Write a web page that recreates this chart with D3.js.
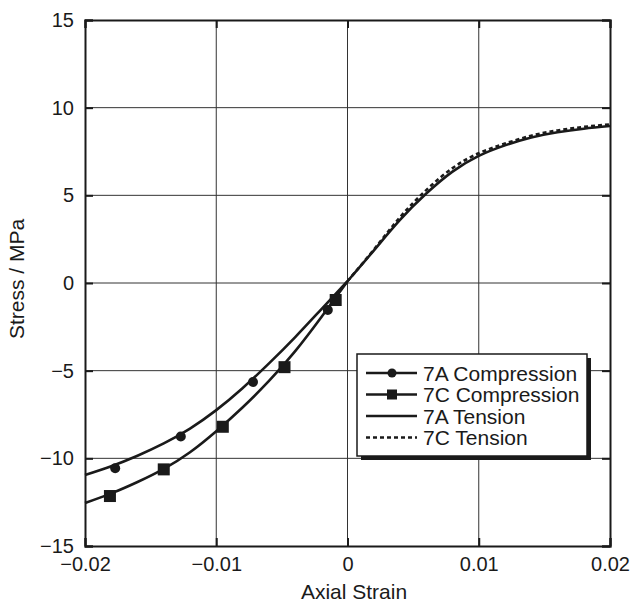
<!DOCTYPE html>
<html>
<head>
<meta charset="utf-8">
<script src="https://cdn.jsdelivr.net/npm/d3@7"></script>
<style>
  body { margin: 0; background: #fff; }
  text { font-family: "Liberation Sans", Arial, sans-serif; fill: #1a1a1a; }
</style>
</head>
<body>
<script>
// fitted curves
var compStrain = [-0.020, -0.018, -0.016, -0.014, -0.012, -0.010, -0.008, -0.006, -0.004, -0.002, 0];
var fit7A = [-10.95, -10.45, -9.85, -9.15, -8.3, -7.25, -6.0, -4.6, -3.1, -1.5, 0.1];
var fit7C = [-12.55, -12.0, -11.35, -10.6, -9.65, -8.45, -7.1, -5.6, -3.9, -1.95, 0.1];

var tensStrain = [0, 0.002, 0.004, 0.006, 0.008, 0.010, 0.012, 0.014, 0.016, 0.018, 0.020];
var tens7A = [0.1, 1.85, 3.6, 5.1, 6.35, 7.25, 7.85, 8.3, 8.6, 8.8, 8.95];
var tens7C = [0.1, 1.9, 3.75, 5.3, 6.55, 7.4, 7.95, 8.4, 8.7, 8.9, 9.05];

// measured points
var pts7AStrain = [-0.0177, -0.0127, -0.0072, -0.0015];
var pts7AStress = [-10.57, -8.75, -5.65, -1.54];
var pts7CStrain = [-0.0181, -0.0140, -0.0095, -0.0048, -0.0009];
var pts7CStress = [-12.15, -10.63, -8.2, -4.8, -0.97];

var xTicks = [-0.02, -0.01, 0, 0.01, 0.02];
var yTicks = [-15, -10, -5, 0, 5, 10, 15];
var legendLabels = ["7A Compression", "7C Compression", "7A Tension", "7C Tension"];

var w = 633, h = 604;
var mLeft = 85, mRight = 610, mTop = 20, mBottom = 546;

var svg = d3.select("body").append("svg")
    .attr("width", w)
    .attr("height", h);

var x = d3.scaleLinear().domain([-0.02, 0.02]).range([mLeft, mRight]);
var y = d3.scaleLinear().domain([-15, 15]).range([mBottom, mTop]);

function fmt(v) {
    return v === 0 ? "0" : (v < 0 ? "\u2212" : "") + Math.abs(v);
}

// grid
svg.append("g").selectAll("line")
    .data(xTicks.slice(1, -1))
    .enter().append("line")
    .attr("x1", function(d) { return x(d); })
    .attr("x2", function(d) { return x(d); })
    .attr("y1", mTop).attr("y2", mBottom)
    .attr("stroke", "#333").attr("stroke-width", 1);
svg.append("g").selectAll("line")
    .data(yTicks.slice(1, -1))
    .enter().append("line")
    .attr("y1", function(d) { return y(d); })
    .attr("y2", function(d) { return y(d); })
    .attr("x1", mLeft).attr("x2", mRight)
    .attr("stroke", "#333").attr("stroke-width", 1);

// axes with inward ticks
svg.append("g")
    .attr("transform", "translate(0," + mBottom + ")")
    .call(d3.axisBottom(x).tickValues(xTicks).tickSize(-8).tickPadding(11).tickFormat(fmt));
svg.append("g")
    .attr("transform", "translate(" + mLeft + ",0)")
    .call(d3.axisLeft(y).tickValues(yTicks).tickSize(-8).tickPadding(11).tickFormat(fmt));
svg.append("g")
    .attr("transform", "translate(0," + mTop + ")")
    .call(d3.axisTop(x).tickValues(xTicks).tickSize(-8).tickFormat(""));
svg.append("g")
    .attr("transform", "translate(" + mRight + ",0)")
    .call(d3.axisRight(y).tickValues(yTicks).tickSize(-8).tickFormat(""));

svg.selectAll(".domain").attr("stroke", "#1a1a1a").attr("stroke-width", 2);
svg.selectAll(".tick line").attr("stroke", "#1a1a1a").attr("stroke-width", 2);
svg.selectAll(".tick text")
    .style("font-family", "'Liberation Sans', Arial, sans-serif")
    .style("font-size", "20px")
    .attr("fill", "#1a1a1a");

// axis titles
svg.append("text")
    .attr("x", 354).attr("y", 599)
    .attr("text-anchor", "middle")
    .style("font-size", "21px")
    .text("Axial Strain");
svg.append("text")
    .attr("transform", "translate(24,279)rotate(-90)")
    .attr("text-anchor", "middle")
    .style("font-size", "21px")
    .text("Stress / MPa");

// curves
var line = d3.line()
    .x(function(d) { return x(d[0]); })
    .y(function(d) { return y(d[1]); })
    .curve(d3.curveNatural);

var plot = svg.append("g");

function drawCurve(xs, ys, dash) {
    plot.append("path")
        .datum(d3.zip(xs, ys))
        .attr("d", line)
        .attr("fill", "none")
        .attr("stroke", "#1a1a1a")
        .attr("stroke-width", 2.6)
        .attr("stroke-dasharray", dash || null);
}

drawCurve(compStrain, fit7A);
drawCurve(compStrain, fit7C);
drawCurve(tensStrain, tens7A);
drawCurve(tensStrain, tens7C, "4,3");

plot.selectAll("circle.p7a")
    .data(d3.zip(pts7AStrain, pts7AStress))
    .enter().append("circle")
    .attr("class", "p7a")
    .attr("cx", function(d) { return x(d[0]); })
    .attr("cy", function(d) { return y(d[1]); })
    .attr("r", 5)
    .attr("fill", "#1a1a1a");

plot.selectAll("rect.p7c")
    .data(d3.zip(pts7CStrain, pts7CStress))
    .enter().append("rect")
    .attr("class", "p7c")
    .attr("x", function(d) { return x(d[0]) - 6; })
    .attr("y", function(d) { return y(d[1]) - 6; })
    .attr("width", 12).attr("height", 12)
    .attr("fill", "#1a1a1a");

// legend with drop shadow
var lg = svg.append("g").attr("transform", "translate(357,354)");
lg.append("rect")
    .attr("x", 4).attr("y", 4)
    .attr("width", 230).attr("height", 102)
    .attr("fill", "#1a1a1a");
lg.append("rect")
    .attr("x", 0).attr("y", 0)
    .attr("width", 230).attr("height", 102)
    .attr("fill", "#fff")
    .attr("stroke", "#1a1a1a")
    .attr("stroke-width", 1.5);

var rows = lg.selectAll("g.row")
    .data(legendLabels)
    .enter().append("g")
    .attr("class", "row")
    .attr("transform", function(d, i) { return "translate(0," + (19 + i * 21.5) + ")"; });

rows.append("line")
    .attr("x1", 9).attr("x2", 60)
    .attr("stroke", "#1a1a1a")
    .attr("stroke-width", 2.4)
    .attr("stroke-dasharray", function(d, i) { return i === 3 ? "4,3" : null; });
rows.filter(function(d, i) { return i === 0; })
    .append("circle").attr("cx", 35).attr("r", 4.5).attr("fill", "#1a1a1a");
rows.filter(function(d, i) { return i === 1; })
    .append("rect").attr("x", 30).attr("y", -5).attr("width", 10).attr("height", 10).attr("fill", "#1a1a1a");
rows.append("text")
    .attr("x", 66).attr("y", 7.5)
    .style("font-size", "21px")
    .text(function(d) { return d; });
</script>
</body>
</html>
